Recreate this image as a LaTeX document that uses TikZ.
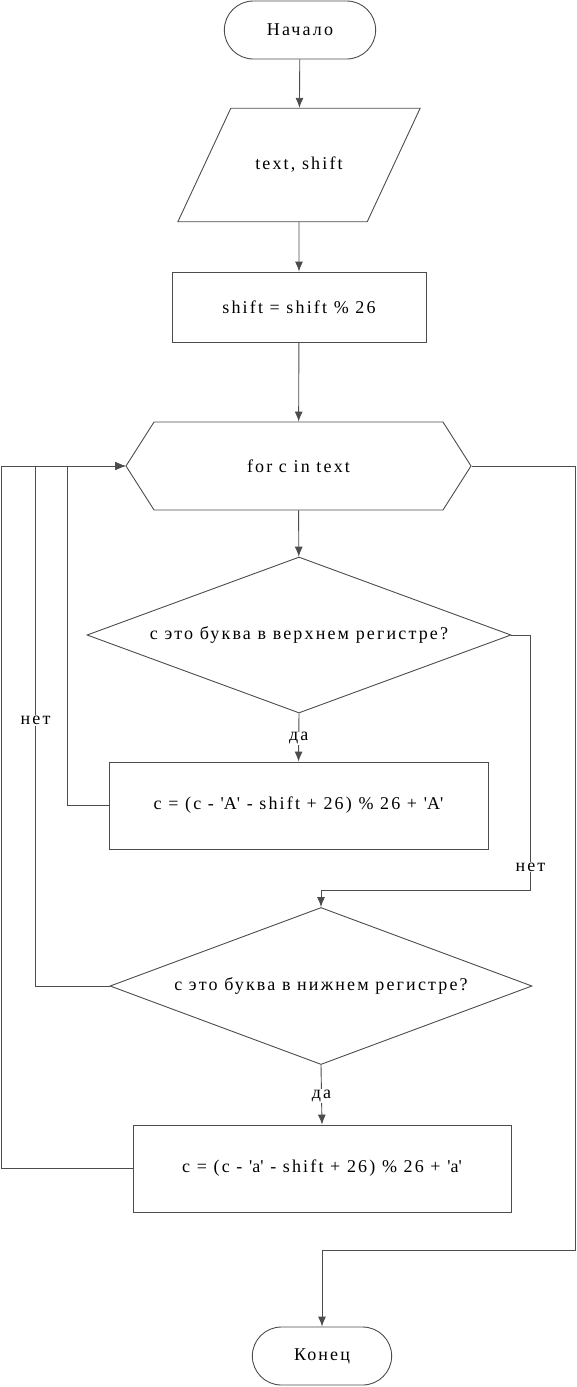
\documentclass[tikz,border=0pt]{standalone}
\usepackage{fontspec}
\setmainfont[LetterSpace=12]{Liberation Serif}
\usetikzlibrary{shapes.geometric,shapes.misc,shapes.symbols,arrows.meta}

\begin{document}
\begin{tikzpicture}[x=1pt,y=-1pt,
    >={Latex[length=10pt,width=8pt]},
    every node/.style={font=\fontsize{18}{20}\selectfont},
    term/.style={rounded rectangle,draw=black!70,line width=0.9pt,minimum width=158pt,minimum height=58pt},
    io/.style={trapezium,trapezium left angle=65,trapezium right angle=115,draw=black!70,line width=0.9pt,inner xsep=24.5pt,inner ysep=49pt},
    proc/.style={rectangle,draw=black!70,line width=0.9pt},
    forloop/.style={signal,signal to=west and east,signal pointer angle=115,draw=black!70,line width=0.9pt,minimum width=345pt,minimum height=88pt},
    cond/.style={diamond,aspect=2.7,draw=black!70,line width=0.9pt,inner sep=0pt},
    conn/.style={draw=black!70,line width=0.9pt},
    answer/.style={fill=white,inner sep=1pt},
]
\useasboundingbox (0,0) rectangle (577,1387);

% blocks
\node[term] (start) at (300,30) {Начало};
\node[io] (in) at (299,165) {text, shift};
\node[proc,minimum width=254pt,minimum height=70pt] (r1) at (299,307) {shift = shift \% 26};
\node[forloop] (hex) at (298.5,466) {for c in text};
\node[cond,minimum width=424pt,minimum height=156pt] (d1) at (299,635) {c это буква в верхнем регистре?};
\node[proc,minimum width=379pt,minimum height=87pt] (r2) at (298.5,805.5) {c = (c - \textquotesingle A\textquotesingle{} - shift + 26) \% 26 + \textquotesingle A\textquotesingle};
\node[cond,minimum width=422pt,minimum height=157pt] (d2) at (321,986) {c это буква в нижнем регистре?};
\node[proc,minimum width=378pt,minimum height=87pt] (r3) at (322,1168.5) {c = (c - \textquotesingle a\textquotesingle{} - shift + 26) \% 26 + \textquotesingle a\textquotesingle};
\node[term,minimum width=146pt] (end) at (322,1356) {Конец};

% connectors
\draw[conn,->] (start) -- (in);
\draw[conn,->] (in) -- (r1);
\draw[conn,->] (r1) -- (hex);
\draw[conn,->] (hex) -- (d1);
\draw[conn,->] (d1.south) -- node[answer,pos=0.52] {да} (r2.north);
\draw[conn,->] (r2.west) -- ++(-41,0) |- (hex.west);
\draw[conn,->] (d1.east) -- ++(19,0) -- node[answer,pos=0.91] {нет} ++(0,255) -| (d2.north);
\draw[conn,->] (d2.south) -- node[answer,pos=0.52] {да} (r3.north);
\draw[conn,->] (d2.west) -- ++(-74,0) -- node[answer,pos=0.51] {нет} ++(0,-520) -- (hex.west);
\draw[conn,->] (r3.west) -- ++(-131,0) |- (hex.west);
\draw[conn,->] (hex.east) -- ++(104,0) -- ++(0,784) -| (end.north);
\end{tikzpicture}
\end{document}
